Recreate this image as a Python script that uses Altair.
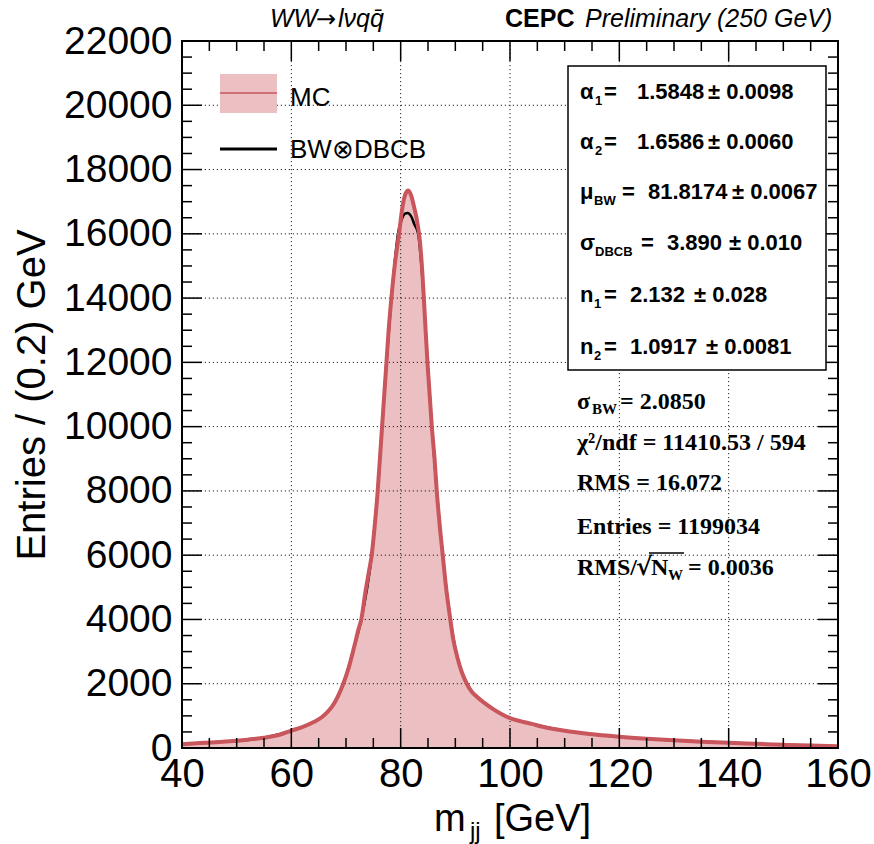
import altair as alt
import pandas as pd

# ---------------- data ----------------
mc_x = [40, 44, 48, 52, 55, 58, 60, 62, 64, 65.5, 66.5, 67.5, 68.5, 69.5, 70.5, 71.5, 72.3, 72.8,
        73.5, 74.2, 74.7, 75.3, 75.8, 76.2, 76.6, 77.0, 77.4, 77.8, 78.3, 78.9, 79.7, 80.3,
        80.9, 81.4, 81.9, 82.5, 83.0, 83.5, 84.0, 84.4, 84.9, 85.3, 85.7, 86.2, 86.6, 87.1,
        87.7, 88.3, 89.0, 89.6, 90.4, 91.2, 92.1, 93, 94, 95.5, 97, 98.5, 100, 102, 104, 106,
        108, 110, 113, 116, 120, 125, 130, 135, 140, 145, 150, 155, 160]
mc_y = [120, 160, 200, 260, 320, 420, 540, 650, 800, 950, 1100, 1300, 1600, 2000, 2500, 3150, 3700, 4000,
        4800, 5500, 6000, 7000, 8000, 9000, 10000, 11000, 12000, 13000, 14000, 15000, 16000, 16800,
        17250, 17350, 17200, 16800, 16400, 15800, 14700, 13500, 12000, 11000, 10000, 9000, 8000, 7000,
        6000, 5000, 4100, 3400, 2800, 2350, 2000, 1750, 1590, 1380, 1200, 1050, 930, 830, 750, 660,
        590, 540, 470, 410, 350, 290, 240, 195, 160, 130, 100, 75, 55]

fit_x = [40, 48, 55, 60, 64, 66.5, 67.5, 68.5, 69.5, 71.5, 72.8, 74.7, 75.8, 76.6, 77.4, 78.3, 78.9,
         79.5, 80.2, 80.8, 81.3, 81.9, 82.5, 83.2, 83.8, 84.4, 84.9, 85.7, 86.6, 87.7, 89.0, 90.4,
         92.1, 94, 97, 100, 104, 110, 120, 130, 140, 150, 160]
fit_y = [120, 200, 320, 540, 800, 1100, 1300, 1600, 2000, 3150, 4000, 6000, 8000, 10000, 12000, 14000,
         15100, 16000, 16450, 16630, 16650, 16550, 16300, 16000, 15000, 13500, 12000, 10000, 8000, 6000,
         4100, 2800, 2000, 1590, 1200, 930, 750, 540, 350, 240, 160, 100, 55]

x_ticks = [40, 60, 80, 100, 120, 140, 160]
y_ticks = [0, 2000, 4000, 6000, 8000, 10000, 12000, 14000, 16000, 18000, 20000, 22000]

stats_box = [  # symbol, subscript, value, error
    ("α", "1", "1.5848", "0.0098"),
    ("α", "2", "1.6586", "0.0060"),
    ("μ", "BW", "81.8174", "0.0067"),
    ("σ", "DBCB", "3.890", "0.010"),
    ("n", "1", "2.132", "0.028"),
    ("n", "2", "1.0917", "0.0081"),
]

# ---------------- layout ----------------
W, H = 656, 707
X0, Y0 = 182, 41          # absolute position of plot area
FILL = "#ecbfc2"
RED = "#c9565c"
SANS = "Liberation Sans"
SERIF = "Liberation Serif"

xs = alt.Scale(domain=[40, 160], nice=False, zero=False)
ys = alt.Scale(domain=[0, 22000], nice=False, zero=False)
XAX = alt.Axis(values=x_ticks, title=None, labelFontSize=40, labelPadding=6, labelFont=SANS,
               labelColor="black", ticks=False, domain=False, grid=False,
               labelFlush=False, labelOverlap=False)
YAX = alt.Axis(values=y_ticks, title=None, labelFontSize=39, labelPadding=10, labelFont=SANS,
               labelColor="black", ticks=False, domain=False, grid=False, format="d",
               labelFlush=False, labelOverlap=False)


def X(f="x"):
    return alt.X(f + ":Q", scale=xs, axis=XAX)


def Y(f="y"):
    return alt.Y(f + ":Q", scale=ys, axis=YAX)


mc = pd.DataFrame({"x": mc_x, "y": mc_y})
fit = pd.DataFrame({"x": fit_x, "y": fit_y})

area = alt.Chart(mc).mark_area(color=FILL, interpolate="monotone").encode(x=X(), y=Y())

grid_x = alt.Chart(pd.DataFrame({"x": x_ticks[1:-1]})).mark_rule(
    color="#222", strokeWidth=1, strokeDash=[1.2, 2.8]).encode(x=X())
grid_y = alt.Chart(pd.DataFrame({"y": y_ticks[1:-1]})).mark_rule(
    color="#222", strokeWidth=1, strokeDash=[1.2, 2.8]).encode(y=Y())

fit_line = alt.Chart(fit).mark_line(color="black", strokeWidth=2.5, interpolate="monotone").encode(
    x=X(), y=Y())
mc_line = alt.Chart(mc).mark_line(color=RED, strokeWidth=4, interpolate="monotone").encode(
    x=X(), y=Y())


def minors(major):
    out = []
    for a, b in zip(major[:-1], major[1:]):
        step = (b - a) / 4
        out += [a + k * step for k in (1, 2, 3)]
    return out


def xticks(vals, length):
    d = pd.DataFrame({"x": vals})
    bot = alt.Chart(d).mark_rule(color="black", strokeWidth=1.5).encode(
        x=X(), y=alt.value(H), y2=alt.value(H - length))
    top = alt.Chart(d).mark_rule(color="black", strokeWidth=1.5).encode(
        x=X(), y=alt.value(0), y2=alt.value(length))
    return [bot, top]


def yticks(vals, length):
    d = pd.DataFrame({"y": vals})
    left = alt.Chart(d).mark_rule(color="black", strokeWidth=1.5).encode(
        y=Y(), x=alt.value(0), x2=alt.value(length))
    right = alt.Chart(d).mark_rule(color="black", strokeWidth=1.5).encode(
        y=Y(), x=alt.value(W), x2=alt.value(W - length))
    return [left, right]


tick_layers = (xticks(x_ticks, 20) + xticks(minors(x_ticks), 10)
               + yticks(y_ticks, 20) + yticks(minors(y_ticks), 10))

one = pd.DataFrame({"k": [0]})


def txt(s, ax, ay, size, font=SANS, weight="normal", style="normal", align="left",
        baseline="middle", angle=0):
    return alt.Chart(pd.DataFrame({"t": [s]})).mark_text(
        font=font, fontSize=size, fontWeight=weight, fontStyle=style, align=align,
        baseline=baseline, angle=angle, color="black").encode(
        text="t:N", x=alt.value(ax - X0), y=alt.value(ay - Y0))


def rect(ax1, ay1, ax2, ay2, fill, stroke=None, sw=0, opacity=1.0):
    kw = dict(fill=fill, fillOpacity=opacity)
    if stroke:
        kw.update(stroke=stroke, strokeWidth=sw)
    return alt.Chart(one).mark_rect(**kw).encode(
        x=alt.value(ax1 - X0), x2=alt.value(ax2 - X0), y=alt.value(ay1 - Y0), y2=alt.value(ay2 - Y0))


def hline(ax1, ax2, ay, color, sw):
    return alt.Chart(one).mark_rule(color=color, strokeWidth=sw).encode(
        x=alt.value(ax1 - X0), x2=alt.value(ax2 - X0), y=alt.value(ay - Y0))


frame = alt.Chart(one).mark_rect(fillOpacity=0, stroke="black", strokeWidth=2).encode(
    x=alt.value(0), x2=alt.value(W), y=alt.value(0), y2=alt.value(H))

# legend
legend = [
    rect(220, 74, 277, 113, FILL),
    hline(220, 277, 93, RED, 1.5),
    txt("MC", 290, 98, 26),
    hline(220, 277, 149, "black", 3),
    txt("BW⊗DBCB", 290, 150, 26),
]

# stats box
box = [rect(568, 66, 826, 370, "white", "black", 1.5)]
line_y = [92, 142, 192, 243, 295, 347]
layout = {  # sub_x, eq_x, val_x, pm_x
    0: (595, 604, 637, 708),
    1: (595, 604, 637, 708),
    2: (594, 622, 648, 732),
    3: (595, 641, 667, 729),
    4: (594, 604, 630, 694),
    5: (594, 604, 630, 706),
}
for i, (sym, sub, val, err) in enumerate(stats_box):
    sx, ex, vx, px = layout[i]
    y = line_y[i]
    box += [
        txt(sym, 580, y, 22, weight="bold"),
        txt(sub, sx, y + 9, 13, weight="bold"),
        txt("=", ex, y, 22, weight="bold"),
        txt(val, vx, y, 22, weight="bold"),
        txt("± " + err, px, y, 22, weight="bold"),
    ]

# extra lines (serif)
extra = [
    txt("σ", 577, 402, 24, font=SERIF, weight="bold"),
    txt("BW", 592, 409, 15, font=SERIF, weight="bold"),
    txt("= 2.0850", 620, 402, 24, font=SERIF, weight="bold"),
    txt("χ²/ndf = 11410.53 / 594", 577, 443, 24, font=SERIF, weight="bold"),
    txt("RMS = 16.072", 577, 483, 24, font=SERIF, weight="bold"),
    txt("Entries = 1199034", 577, 527, 24, font=SERIF, weight="bold"),
    txt("RMS/", 577, 568, 24, font=SERIF, weight="bold"),
    txt("√", 636, 567, 25, font="DejaVu Serif", weight="bold"),
    hline(649, 684, 553, "black", 1.5),
    txt("N", 651, 568, 24, font=SERIF, weight="bold"),
    txt("W", 668, 575, 15, font=SERIF, weight="bold"),
    txt("= 0.0036", 688, 568, 24, font=SERIF, weight="bold"),
]

# titles
titles = [
    txt("WW", 270, 19, 25, style="italic"),
    txt("→", 316, 20, 24, font="DejaVu Sans"),
    txt("lνqq\u0304", 338, 19, 25, style="italic"),
    txt("CEPC", 505, 19, 25, weight="bold"),
    txt("Preliminary (250 GeV)", 585, 19, 25, style="italic"),
    txt("Entries / (0.2) GeV", 33, 395, 40, angle=270, align="center"),
    txt("m", 434, 820, 38),
    txt("jj", 470, 832, 24),
    txt("[GeV]", 494, 820, 38),
]

chart = alt.layer(
    area, grid_x, grid_y, fit_line, mc_line, *tick_layers, frame,
    *legend, *box, *extra, *titles
).properties(
    width=W, height=H, autosize="none",
    padding={"left": X0, "top": Y0, "right": 874 - X0 - W, "bottom": 844 - Y0 - H},
    background="white",
).configure_view(stroke=None)

chart.save("out.html", embed_options={"renderer": "svg", "actions": False})
